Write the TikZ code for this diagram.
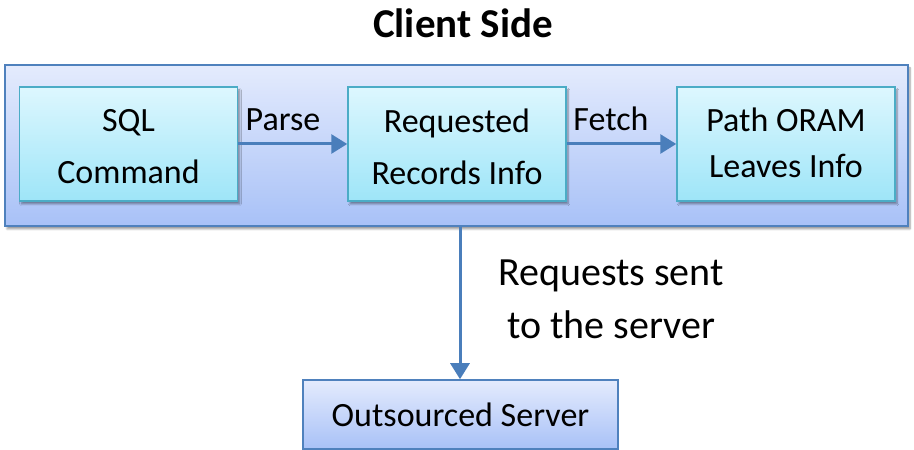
\documentclass[tikz,border=0pt]{standalone}
\usepackage{fontspec}
\setmainfont{Carlito}
\usetikzlibrary{shadows.blur,arrows.meta}
\definecolor{edgeblue}{HTML}{4F81BD}
\definecolor{arrowblue}{HTML}{4A7EBB}
\definecolor{cyanedge}{HTML}{4BACC6}
\definecolor{lavtop}{HTML}{E4EBFD}
\definecolor{lavbot}{HTML}{A8C1F7}
\definecolor{cyantop}{HTML}{DDF7FE}
\definecolor{cyanbot}{HTML}{9EE5F8}
\tikzset{
  outerbox/.style={draw=edgeblue, line width=1.5pt, top color=lavtop, bottom color=lavbot,
    blur shadow={shadow xshift=2pt, shadow yshift=-3pt, shadow blur steps=6, shadow opacity=40}},
  stagebox/.style={draw=cyanedge, line width=1.5pt, top color=cyantop, bottom color=cyanbot,
    minimum width=218pt, minimum height=114pt,
    blur shadow={shadow xshift=2pt, shadow yshift=-3pt, shadow blur steps=6, shadow opacity=40}},
  stagetext/.style={align=center, inner sep=0pt, font=\fontsize{34}{52}\selectfont},
  serverbox/.style={draw=edgeblue, line width=1.5pt, top color=lavtop, bottom color=lavbot,
    minimum width=315pt, minimum height=69pt, font=\fontsize{34}{40}\selectfont},
  flow/.style={draw=arrowblue, line width=3pt, -{Triangle[length=16pt,width=19pt]}},
  lbl/.style={font=\fontsize{34}{40}\selectfont, inner sep=0pt}
}
\begin{document}
\begin{tikzpicture}[x=1pt,y=1pt]
\useasboundingbox (0,0) rectangle (914,450);
% title
\node[inner sep=0pt, font=\fontsize{41}{48}\selectfont\bfseries] (title) at (463,427) {Client Side};
% client-side container
\node[outerbox, minimum width=903pt, minimum height=161pt, inner sep=0pt] (client) at (456.5,304.5) {};
% processing stages
\node[stagebox] (sql) at (128.5,306) {};
\node[stagebox] (req) at (457,306) {};
\node[stagebox] (path) at (786,306) {};
\node[stagetext] (sqltext) at ([yshift=-3pt]sql.center) {SQL\\Command};
\node[stagetext] (reqtext) at ([yshift=-3pt]req.center) {Requested\\Records Info};
\node[stagetext, font=\fontsize{34}{46}\selectfont] (pathtext) at ([yshift=1pt]path.center) {Path ORAM\\Leaves Info};
% server
\node[serverbox] (server) at (460.5,35.5) {Outsourced Server};
% connectors
\draw[flow] (client.south -| 460,0) -- (server.north -| 460,0);
\draw[flow] (sql.east) -- (req.west);
\draw[flow] (req.east) -- (path.west);
% labels
\node[lbl] (parse) at (283,330) {Parse};
\node[lbl] (fetch) at (611,331) {Fetch};
\node[lbl, align=center, font=\fontsize{40}{53}\selectfont] (sent) at (611,151) {Requests sent\\to the server};
\end{tikzpicture}
\end{document}
